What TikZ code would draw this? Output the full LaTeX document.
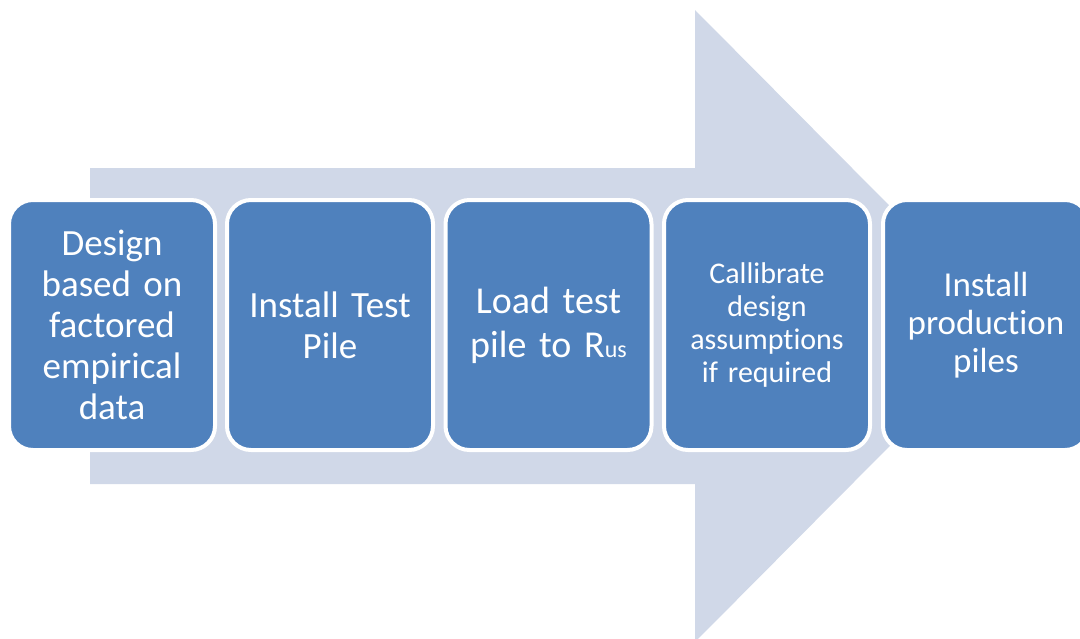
\documentclass[tikz,border=0pt]{standalone}
\usepackage{fontspec}
\setmainfont{Carlito}[Ligatures=NoCommon,WordSpace=0.8]
\definecolor{stepblue}{HTML}{4F81BD}
\definecolor{arrowgrey}{HTML}{D0D8E8}
\tikzset{
  stepbox/.style={rectangle,rounded corners=24pt,fill=stepblue,draw=white,
    line width=4pt,minimum width=206pt,minimum height=250pt,
    text width=196pt,align=center,text=white,inner sep=0pt}
}
\begin{document}
\begin{tikzpicture}[x=1pt,y=-1pt]
\useasboundingbox (0,0) rectangle (1080,638);
\clip (0,0) rectangle (1080,638);
\fill[arrowgrey] (90,168) -- (695,168) -- (695,10) -- (1009,326)
  -- (695,642) -- (695,484) -- (90,484) -- cycle;
\foreach \name/\cx/\fs/\ls/\txt in {
  design/112/37/41/{Design\\based on\\factored\\empirical\\data},
  testpile/330/37/41/{Install Test\\Pile},
  loadtest/548.5/38/44/{Load test\\pile to R{\fontsize{24}{24}\selectfont us}},
  callibrate/767/30/33/{Callibrate\\design\\assumptions\\if required},
  production/986/35/38/{Install\\production\\piles}}
{
  \node[stepbox,font=\fontsize{\fs}{\ls}\selectfont] (\name) at (\cx,325) {\txt};
}
\end{tikzpicture}
\end{document}
